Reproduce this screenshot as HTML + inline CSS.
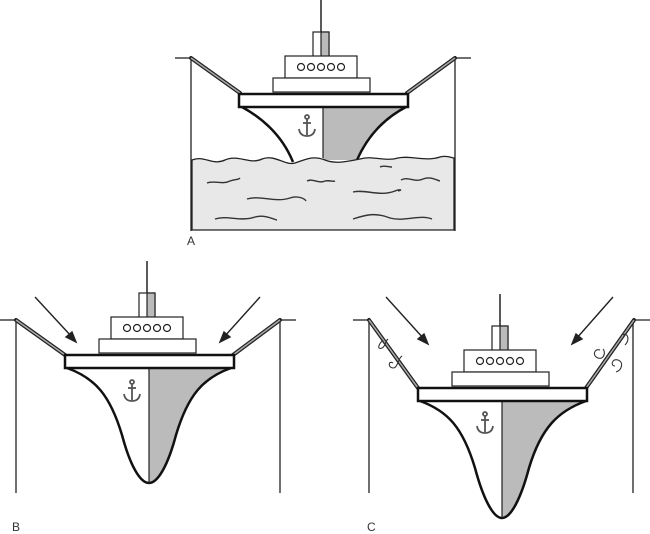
<!DOCTYPE html>
<html><head><style>html,body{margin:0;padding:0;background:#fff}svg{display:block}</style></head><body>
<svg width="650" height="534" viewBox="0 0 650 534" xmlns="http://www.w3.org/2000/svg" font-family="Liberation Sans, sans-serif">
<defs>
<g id="anchor" stroke="#555" fill="none" stroke-width="1.8">
<circle cx="0" cy="-10" r="2"/><line x1="0" y1="-8" x2="0" y2="8"/><line x1="-4" y1="-4" x2="4" y2="-4"/><path d="M-8,2 Q-7,9 0,9 Q7,9 8,2"/>
</g>
<g id="top">
<rect x="74" y="-62" width="16" height="32" fill="#fff" stroke="#222" stroke-width="1.2"/>
<rect x="82" y="-62" width="8" height="32" fill="#bbb" stroke="#222" stroke-width="1.2"/>
<line x1="82" y1="-62" x2="82" y2="-94" stroke="#222" stroke-width="1.5"/>
<rect x="46" y="-38" width="72" height="22" fill="#fff" stroke="#222" stroke-width="1.2"/>
<rect x="34" y="-16" width="97" height="14" fill="#fff" stroke="#222" stroke-width="1.2"/>
<g fill="none" stroke="#222" stroke-width="1.2"><circle cx="62" cy="-27" r="3.5"/><circle cx="72" cy="-27" r="3.5"/><circle cx="82" cy="-27" r="3.5"/><circle cx="92" cy="-27" r="3.5"/><circle cx="102" cy="-27" r="3.5"/></g>
<rect x="0" y="0" width="169" height="13" fill="#fff" stroke="#111" stroke-width="2.5"/>
</g>
</defs>
<g stroke="#222" stroke-width="1.3" fill="none">
<line x1="175" y1="58" x2="191" y2="58"/><line x1="455" y1="58" x2="471" y2="58"/>
<line x1="191" y1="58" x2="191" y2="231"/><line x1="455" y1="58" x2="455" y2="231"/>
<line x1="0" y1="320" x2="16" y2="320"/><line x1="280" y1="320" x2="296" y2="320"/>
<line x1="16" y1="320" x2="16" y2="493"/><line x1="280" y1="320" x2="280" y2="493"/>
<line x1="353" y1="320" x2="369" y2="320"/><line x1="633" y1="320" x2="650" y2="320"/>
<line x1="369" y1="320" x2="369" y2="493"/><line x1="633" y1="320" x2="633" y2="493"/>
</g>
<g stroke="#222" stroke-width="4" stroke-linecap="round"><line x1="191" y1="58" x2="240" y2="93"/><line x1="455" y1="58" x2="407" y2="93"/>
<line x1="16" y1="320" x2="65" y2="355"/><line x1="280" y1="320" x2="233" y2="355"/>
<line x1="369" y1="320" x2="418" y2="388"/><line x1="634" y1="320" x2="586" y2="388"/></g>
<g stroke="#aaa" stroke-width="1.5"><line x1="191" y1="58" x2="240" y2="93"/><line x1="455" y1="58" x2="407" y2="93"/>
<line x1="16" y1="320" x2="65" y2="355"/><line x1="280" y1="320" x2="233" y2="355"/>
<line x1="369" y1="320" x2="418" y2="388"/><line x1="634" y1="320" x2="586" y2="388"/></g>
<!-- A hull -->
<path d="M242,107 C262,118 282,135 293,162 L357,160 C368,135 385,118 406,107 Z" fill="#fff"/>
<path d="M323,107 L406,107 C385,118 368,135 357,160 L323,160 Z" fill="#bbb"/>
<path d="M242,107 C262,118 282,135 293,162 M406,107 C385,118 368,135 357,160" stroke="#111" stroke-width="2.5" fill="none"/>
<line x1="323" y1="107" x2="323" y2="158" stroke="#222" stroke-width="1.2"/>
<path d="M192,160 C205,155 212,166 225,160 C238,154 250,165 262,159 C275,154 285,166 295,163 C305,160 312,155 325,160 C335,164 345,162 360,159 C372,155 385,162 398,158 C410,155 425,162 440,157 C447,155 452,158 454,158 L454,230 L192,230 Z" fill="#e8e8e8" stroke="#222" stroke-width="1.3"/>
<g fill="none" stroke="#333" stroke-width="1.4">
<path d="M207,183 C215,180 222,185 230,181 C236,179 238,180 240,178"/>
<path d="M307,181 C313,178 318,184 325,181 C330,180 333,182 335,181"/>
<path d="M380,167 C384,165 388,167 392,167"/>
<path d="M401,180 C408,176 415,183 423,179 C430,176 436,180 440,181"/>
<path d="M247,199 C260,195 275,203 290,198 C298,195 305,199 306,201"/>
<path d="M353,192 C365,189 380,197 395,191 C400,189 403,190 398,191"/>
<path d="M215,219 C228,215 240,222 255,217 C265,214 275,220 277,220"/>
<path d="M353,219 C365,215 375,212 390,218 C405,222 420,214 432,219"/>
</g>
<use href="#anchor" x="307" y="127"/>
<use href="#top" x="239" y="94"/>
<!-- B hull -->
<path d="M67,368 C95,378 110,395 122,435 C130,465 140,483 149,483 C158,483 168,465 176,435 C188,395 203,378 231,368 Z" fill="#fff"/>
<path d="M149,368 L231,368 C203,378 188,395 176,435 C168,465 158,483 149,483 Z" fill="#bbb"/>
<path d="M67,368 C95,378 110,395 122,435 C130,465 140,483 149,483 C158,483 168,465 176,435 C188,395 203,378 231,368" fill="none" stroke="#111" stroke-width="2.5"/>
<line x1="149" y1="368" x2="149" y2="483" stroke="#222" stroke-width="1.2"/>
<use href="#anchor" x="132" y="392"/>
<use href="#top" x="65" y="355"/>
<!-- C hull -->
<path d="M420,401 C448,411 463,428 475,468 C483,498 493,518 502,518 C511,518 521,498 529,468 C541,428 558,411 586,401 Z" fill="#fff"/>
<path d="M502,401 L586,401 C558,411 541,428 529,468 C521,498 511,518 502,518 Z" fill="#bbb"/>
<path d="M420,401 C448,411 463,428 475,468 C483,498 493,518 502,518 C511,518 521,498 529,468 C541,428 558,411 586,401" fill="none" stroke="#111" stroke-width="2.5"/>
<line x1="502" y1="401" x2="502" y2="518" stroke="#222" stroke-width="1.2"/>
<use href="#anchor" x="485" y="424"/>
<use href="#top" x="418" y="388"/>
<g fill="none" stroke="#333" stroke-width="1.1">
<path d="M383,340 C378,345 377,350 382,348 C386,346 385,341 388,339"/>
<path d="M393,363 C388,360 388,368 393,368 C398,368 398,358 402,356"/>
<path d="M600,350 C594,348 592,356 598,358 C604,360 606,352 603,349"/>
<path d="M616,372 C622,370 624,362 618,360 C612,358 610,366 615,366"/>
<path d="M625,345 C630,340 628,332 623,335"/>
</g>
<g stroke="#222" stroke-width="1.4" fill="#222">
<line x1="35" y1="297" x2="72" y2="337"/><polygon points="76,342 66,337 72,332"/>
<line x1="260" y1="297" x2="224" y2="337"/><polygon points="220,342 224,332 230,337"/>
<line x1="386" y1="297" x2="424" y2="339"/><polygon points="428,344 418,339 424,334"/>
<line x1="613" y1="297" x2="576" y2="339"/><polygon points="572,344 576,334 582,339"/>
</g>
<g font-size="12" fill="#333"><text x="187" y="245">A</text><text x="12" y="531">B</text><text x="367" y="531">C</text></g>
</svg>
</body></html>
